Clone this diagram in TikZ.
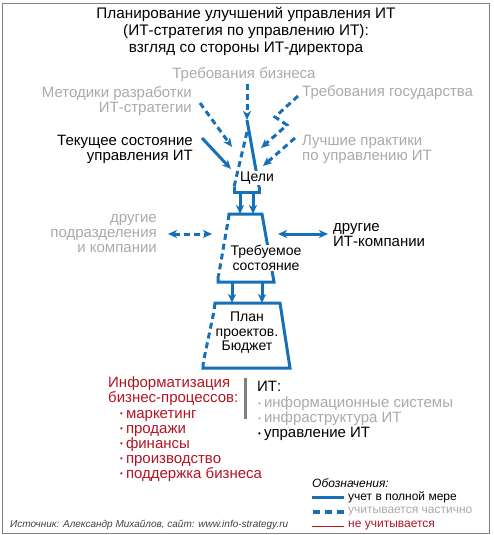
\documentclass[tikz,border=0pt]{standalone}
\usepackage{fontspec}
\setmainfont{Liberation Sans}
\usetikzlibrary{arrows.meta}
\definecolor{itBlue}{RGB}{22,112,184}
\definecolor{itGray}{RGB}{170,170,170}
\definecolor{itRed}{RGB}{178,20,35}
\newcommand{\itm}{\raisebox{0.2ex}{\fontsize{8}{8}\selectfont•}\hspace{3pt}}
\tikzset{
  full/.style = {itBlue, line width = 3pt},
  part/.style = {itBlue, line width = 3pt, dash pattern = on 6pt off 4pt},
  tip/.style = {-{Stealth[length = 9pt, width = 8pt, inset = 2.5pt]}},
  tips/.style = {{Stealth[length = 9pt, width = 8pt, inset = 2.5pt]}-{Stealth[length = 9pt, width = 8pt, inset = 2.5pt]}},
  lbl/.style = {inner sep = 0pt, font = \fontsize{15}{15}\selectfont},
  box/.style = {inner sep = 1pt, fill = white, align = center, font = \fontsize{14}{14.5}\selectfont},
}

\begin{document}
\begin{tikzpicture}[x = 1pt, y = -1pt]
		\useasboundingbox (0, 0) rectangle (493, 535);
		\draw [gray, line width = 1pt] (2, 4) rectangle (489, 533);
		%%%%%%%%%%%%%
		\node (title) at (246, 31) [align = center, inner sep = 0pt, font = \fontsize{15.3}{17}\selectfont]
			{Планирование улучшений управления ИТ\\(ИТ-стратегия по управлению ИТ):\\взгляд со стороны ИТ-директора};
		\node (biz) at (244, 75) [lbl, itGray] {Требования бизнеса};
		\node (met) at (192, 101) [lbl, itGray, anchor = east, align = right] {Методики разработки\\ИТ-стратегии};
		\node (gov) at (302, 93) [lbl, itGray, anchor = west] {Требования государства};
		\node (cur) at (193, 149) [lbl, anchor = east, align = right] {Текущее состояние\\управления ИТ};
		\node (best) at (302, 149) [lbl, itGray, anchor = west, align = left] {Лучшие практики\\по управлению ИТ};
		\node (dept) at (157, 234) [lbl, itGray, anchor = east, align = right] {другие\\подразделения\\и компании};
		\node (comp) at (333, 235) [lbl, anchor = west, align = left] {другие\\ИТ-компании};
		%%%%%%%%%%%%%
		\coordinate (bizS) at (247, 84); \coordinate (bizE) at (247, 120);
		\coordinate (metS) at (200, 103); \coordinate (metE) at (232, 147);
		\coordinate (curS) at (202, 138); \coordinate (curE) at (231, 169);
		\coordinate (govS) at (298, 96); \coordinate (govE) at (261, 148);
		\coordinate (bestS) at (295, 138); \coordinate (bestE) at (263, 166);
		\draw [part, tip] (bizS) to (bizE);
		\draw [part, tip] (metS) to (metE);
		\draw [full, tip] (curS) to (curE);
		\draw [part, tip] (govS) -- (275, 117) -- (287, 125) -- (govE);
		\draw [part, tip] (bestS) to (bestE);
		%%%%%%%%%%%%%
		\coordinate (gL) at (234, 187); \coordinate (gR) at (259, 187);
		\draw [part] (247, 132) -- (gL);
		\draw [full] (bizE) -- (gR);
		\draw [full] (gL) -- (234, 192) -- (259, 192) -- (gR);
		\node (goals) at (257, 178) [box] {Цели};
		%%%%%%%%%%%%%
		\coordinate (rTL) at (229, 214); \coordinate (rTR) at (262, 214);
		\coordinate (rBL) at (218, 282); \coordinate (rBR) at (274, 282);
		\draw [full] (228.3, 220) -- (rTL) -- (rTR) -- (rBR) -- (rBL) -- (218, 276);
		\draw [part] (227.5, 224) -- (218.5, 276);
		\node (req) at (266, 258) [box] {Требуемое\\состояние};
		\draw [full, tip] (240, 192) to (240, 214);
		\draw [full, tip] (253, 192) to (253, 214);
		\draw [part, tips] (168, 234) -- (212, 234);
		\draw [full, tips] (278, 234) -- ([xshift = -5pt] comp.west |- 0, 234);
		%%%%%%%%%%%%%
		\coordinate (pTL) at (215, 303); \coordinate (pTR) at (280, 303);
		\coordinate (pBL) at (203, 368); \coordinate (pBR) at (290, 368);
		\draw [full] (214.2, 309) -- (pTL) -- (pTR) -- (pBR) -- (pBL) -- (203.3, 362);
		\draw [part] (213.6, 313) -- (203.8, 360);
		\node (plan) at (247, 333) [box, fill = none] {План\\проектов.\\Бюджет};
		\draw [full, tip] (232, 282) to (232, 303);
		\draw [full, tip] (262, 282) to (262, 303);
		%%%%%%%%%%%%%
		\node (proc) at (108, 391) [lbl, itRed, anchor = west, align = left] {Информатизация\\бизнес-процессов:};
		\node (procList) at (120, 446) [lbl, itRed, anchor = west, align = left]
			{\itm маркетинг\\\itm продажи\\\itm финансы\\\itm производство\\\itm поддержка бизнеса};
		\draw [gray, line width = 3pt] (245, 378) -- (245, 419);
		\node (it) at (257, 386) [lbl, anchor = west] {ИТ:};
		\node (itList) at (258, 419) [lbl, anchor = west, align = left]
			{\textcolor{itGray}{\itm информационные системы}\\\textcolor{itGray}{\itm инфраструктура ИТ}\\\itm управление ИТ};
		%%%%%%%%%%%%%
		\node (leg) at (312, 483) [lbl, anchor = west, font = \fontsize{12}{12}\itshape] {Обозначения:};
		\node (legFull) at (348, 497) [lbl, anchor = west, font = \fontsize{12}{12}\selectfont] {учет в полной мере};
		\node (legPart) at (348, 512) [lbl, itGray, anchor = west, font = \fontsize{12}{12}\selectfont] {учитывается частично};
		\node (legNone) at (348, 526) [lbl, itRed, anchor = west, font = \fontsize{12}{12}\selectfont] {не учитывается};
		\draw [full] ([xshift = -4pt] legFull.west) -- +(-32, 0);
		\draw [itBlue, line width = 3.5pt, dash pattern = on 7pt off 5pt] ([xshift = -4pt] legPart.west) -- +(-32, 0);
		\draw [itRed, line width = 0.8pt] ([xshift = -4pt] legNone.west) -- +(-32, 0);
		\node (src) at (10, 525) [lbl, anchor = west, text = black!75, font = \fontsize{10}{10}\itshape]
			{Источник: Александр Михайлов, сайт: www.info-strategy.ru};
\end{tikzpicture}
\end{document}
